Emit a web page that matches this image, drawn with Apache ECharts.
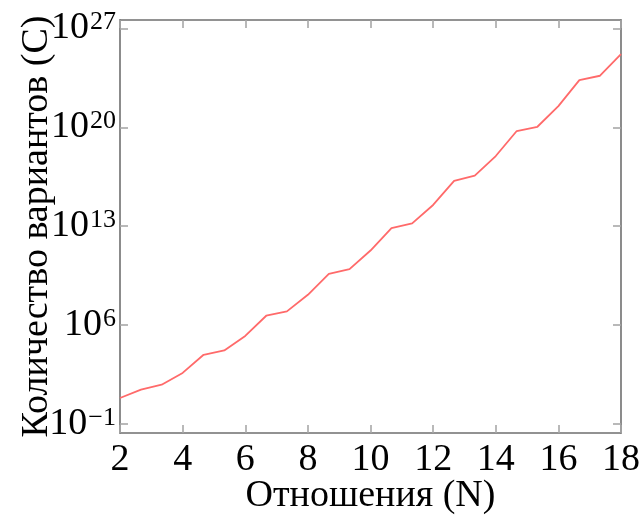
<!DOCTYPE html>
<html>
<head>
<meta charset="utf-8">
<script src="https://cdn.jsdelivr.net/npm/echarts@6/dist/echarts.min.js"></script>
<style>
  html, body { margin: 0; padding: 0; background: #fff; }
  #chart { width: 641px; height: 518px; }
</style>
</head>
<body>
<div id="chart"></div>
<script>
// отношения N (узлы ломаной)
var relations = [2, 2.67, 3.33, 4, 4.67, 5.33, 6, 6.67, 7.33, 8, 8.67, 9.33, 10,
                 10.67, 11.33, 12, 12.67, 13.33, 14, 14.67, 15.33, 16, 16.67, 17.33, 18];
// количество вариантов C
var variants = [6.9, 27, 60, 4.1e2, 7.9e3, 1.6e4, 1.7e5, 4.6e6, 9.3e6, 1.4e8, 4.3e9, 9.1e9,
                1.9e11, 7.2e12, 1.6e13, 3.2e14, 1.6e16, 3.8e16, 9.3e17, 5.5e19, 1.1e20,
                3.2e21, 2.2e23, 4.5e23, 1.5e25];
var xTicks = [2, 4, 6, 8, 10, 12, 14, 16, 18];
var yTicks = [1e-1, 1e6, 1e13, 1e20, 1e27];

var serif = 'Liberation Serif';
var yMin = Math.pow(10, -1.64);
var yMax = Math.pow(10, 27.6);

var points = [];
for (var i = 0; i < relations.length; i++) {
    points.push([relations[i], variants[i]]);
}

function powLabel(v) {
    var e = Math.round(Math.log10(v));
    return '{b|10}{s|' + (e < 0 ? '\u2212' + (-e) : e) + '}';
}

var chart = echarts.init(document.getElementById('chart'));
var axisLineStyle = { color: '#6f6f6f', width: 1.6 };
var tickStyle = { color: '#a8a8a8', width: 1.6 };

var option = {
    animation: false,
    grid: { left: 120, right: 20, top: 20, bottom: 85, outerBoundsMode: 'none', containLabel: false },
    xAxis: [{
        type: 'value',
        min: 2, max: 18, interval: 2,
        name: 'Отношения (N)',
        nameLocation: 'middle',
        nameGap: 44,
        nameMoveOverlap: false,
        nameTextStyle: { fontFamily: serif, fontSize: 38, color: '#000' },
        axisLine: { lineStyle: axisLineStyle },
        axisTick: { inside: true, length: 8, lineStyle: tickStyle, customValues: xTicks },
        axisLabel: { fontFamily: serif, fontSize: 38, color: '#000', margin: 8, customValues: xTicks },
        splitLine: { show: false }
    }, {
        type: 'value',
        position: 'top',
        min: 2, max: 18, interval: 2,
        axisLine: { lineStyle: axisLineStyle },
        axisTick: { inside: true, length: 8, lineStyle: tickStyle, customValues: xTicks },
        axisLabel: { show: false },
        splitLine: { show: false }
    }],
    yAxis: [{
        type: 'log',
        logBase: 10,
        min: yMin, max: yMax,
        name: 'Количество вариантов (C)',
        nameLocation: 'middle',
        nameGap: 64,
        nameMoveOverlap: false,
        nameTextStyle: { fontFamily: serif, fontSize: 38, color: '#000' },
        axisLine: { show: true, lineStyle: axisLineStyle },
        axisTick: { show: true, inside: true, length: 8, lineStyle: tickStyle, customValues: yTicks },
        axisLabel: {
            margin: 4,
            customValues: yTicks,
            formatter: powLabel,
            rich: {
                b: { fontFamily: serif, fontSize: 38, color: '#000', verticalAlign: 'bottom' },
                s: { fontFamily: serif, fontSize: 26, color: '#000', verticalAlign: 'top', padding: [0, 0, 0, 1] }
            }
        },
        splitLine: { show: false }
    }, {
        type: 'log',
        logBase: 10,
        position: 'right',
        min: yMin, max: yMax,
        axisLine: { show: true, lineStyle: axisLineStyle },
        axisTick: { show: true, inside: true, length: 8, lineStyle: tickStyle, customValues: yTicks },
        axisLabel: { show: false, customValues: yTicks },
        splitLine: { show: false }
    }],
    series: [{
        type: 'line',
        xAxisIndex: 0,
        yAxisIndex: 0,
        data: points,
        showSymbol: false,
        lineStyle: { color: '#ff6a6a', width: 1.8 }
    }]
};
chart.setOption(option);
</script>
</body>
</html>
